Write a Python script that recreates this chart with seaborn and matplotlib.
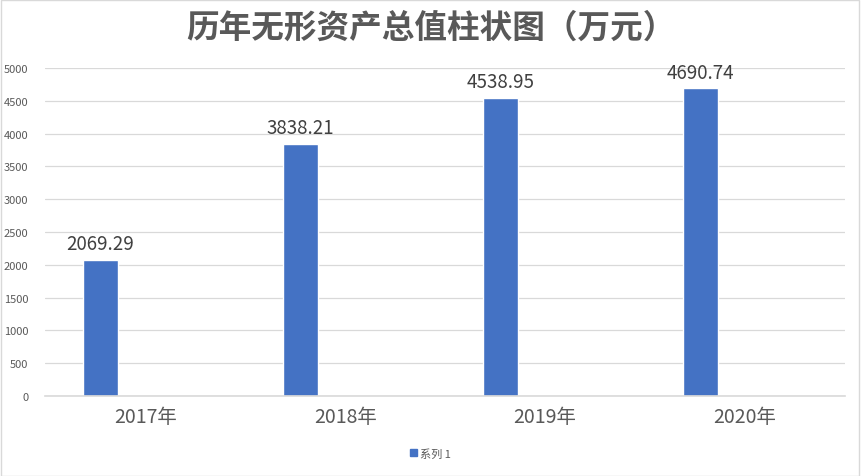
import pandas as pd
import seaborn as sns
import matplotlib
import matplotlib.pyplot as plt
from matplotlib.patches import Rectangle

matplotlib.use("Agg")

years = ["2017年", "2018年", "2019年", "2020年"]
values = [2069.29, 3838.21, 4538.95, 4690.74]
series_name = "系列 1"
yticks = list(range(0, 5001, 500))

sns.set_theme(style="white")
plt.rcParams['font.family'] = ['Noto Sans CJK SC', 'DejaVu Sans']

# second empty series keeps the bar on the left side of each category, like the Excel original
df = pd.DataFrame({
    "year": years + years,
    "value": values + [float("nan")] * len(years),
    "series": [series_name] * len(years) + ["empty"] * len(years),
})

fig = plt.figure(figsize=(8.61, 4.77), dpi=100)
ax = fig.add_axes([0.0525, 0.168, 0.929, 0.687])

sns.barplot(data=df, x="year", y="value", hue="series", ax=ax,
            palette=["#4472c4", "#4472c4"], width=0.9, gap=0.61,
            dodge=True, legend=False, errorbar=None, saturation=1)

for bar, v in zip(ax.patches[:len(years)], values):
    ax.text(bar.get_x() + bar.get_width() / 2, v + 90, f"{v:.2f}",
            ha="center", va="bottom", fontsize=13.5, color="#404040")

ax.set_ylim(0, 5000)
ax.set_yticks(yticks)
ax.set_yticklabels([str(t) for t in yticks], fontsize=8, color="#595959")
ax.tick_params(axis="x", labelsize=14, labelcolor="#595959", length=0, pad=7)
ax.tick_params(axis="y", length=0, pad=12)
ax.grid(axis="y", color="#d9d9d9", linewidth=0.9)
ax.set_axisbelow(True)
ax.set_xlabel("")
ax.set_ylabel("")
for s in ["left", "right", "top"]:
    ax.spines[s].set_visible(False)
ax.spines["bottom"].set_color("#d9d9d9")
ax.spines["bottom"].set_linewidth(1.2)

fig.suptitle("历年无形资产总值柱状图（万元）", fontsize=23.5, fontweight="bold",
             color="#595959", y=0.975)

handle = Rectangle((0, 0), 1, 1, color="#4472c4")
fig.legend([handle], [series_name], loc="center", bbox_to_anchor=(0.5, 0.048),
           frameon=False, fontsize=8, handlelength=0.6, handleheight=0.6,
           handletextpad=0.3, labelcolor="#595959")

fig.patches.append(Rectangle((0.001, 0.001), 0.997, 0.997, transform=fig.transFigure,
                             fill=False, edgecolor="#d9d9d9", linewidth=1))

fig.savefig("out.png", dpi=100)
plt.close()
